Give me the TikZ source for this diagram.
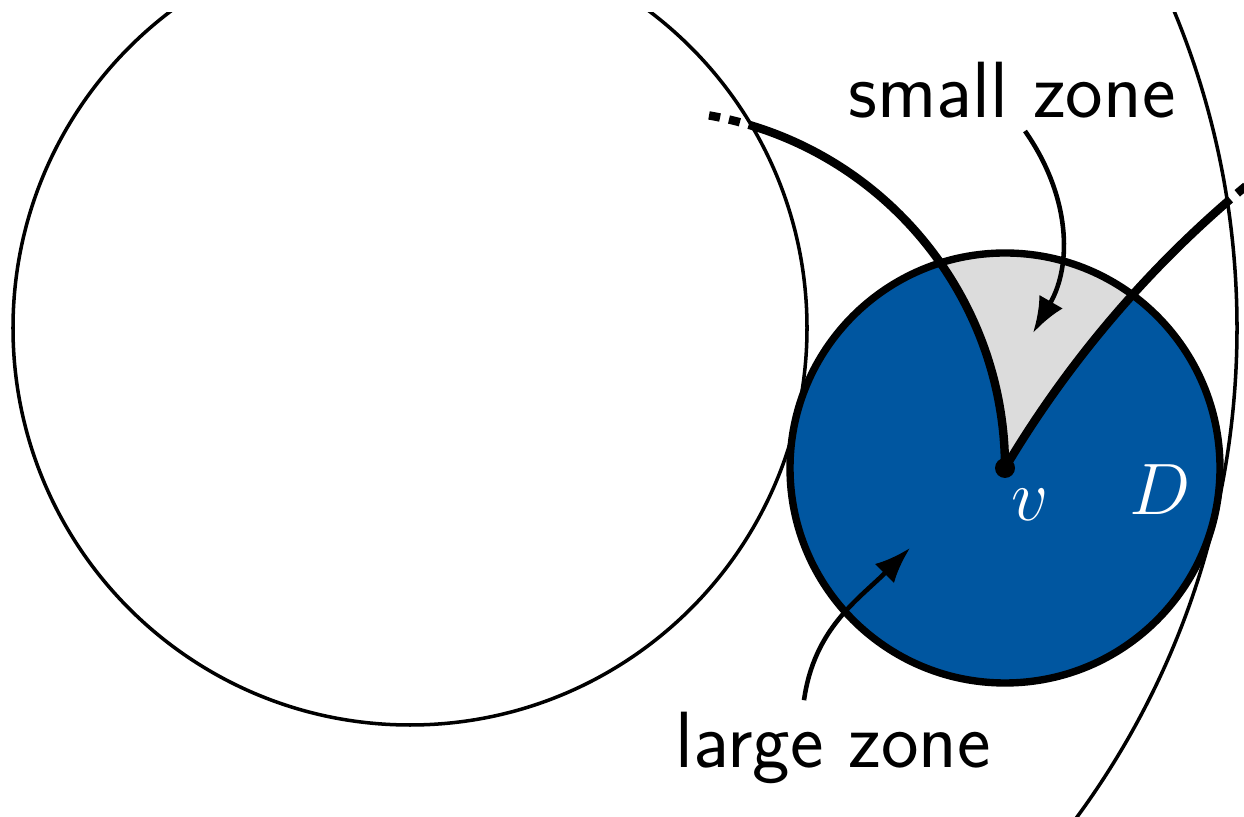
\documentclass[tikz,border=0pt]{standalone}
\usepackage{amsmath}
\usepackage{amssymb}
\usepackage{tikz}
\usetikzlibrary{arrows.meta}
\definecolor{zoneblue}{RGB}{0,86,160}
\definecolor{zonegray}{RGB}{220,220,220}

\begin{document}
\begin{tikzpicture}[
  thinline/.style={line width=1pt},
  geod/.style={line width=2.4pt},
  geodext/.style={line width=2.4pt, dash pattern=on 3.2pt off 2.6pt, dash phase=3.2pt},
  pointer/.style={line width=1.3pt, -{Latex[length=0.36cm,width=0.27cm]}},
  lbl/.style={font=\fontsize{22.7}{27}\selectfont\sffamily}
]

\useasboundingbox (0,0) rectangle (12.44,8.17);
\clip (0,0) rectangle (12.44,8.04);

\coordinate (O) at (4.10,4.89);
\coordinate (v) at (10.05,3.49);

\fill[zoneblue] (v) circle (2.15);
\begin{scope}
\clip (v) circle (2.15);
\fill[zonegray] (v) arc[start angle=0, end angle=80, radius=3.58] -- (13,8.5)
  -- (12.70,6.50) arc[start angle=128, end angle=149.3, radius=10.88] -- cycle;
\end{scope}

\draw[thinline] (O) circle (3.97);
\draw[thinline] (O) circle (8.27);

\draw[line width=2.1pt] (v) circle (2.15);

\draw[geod] (v) arc[start angle=0, end angle=73.5, radius=3.58] coordinate (c1);
\draw[geodext] (c1) arc[start angle=73.5, end angle=80.5, radius=3.58];
\draw[geod] (v) arc[start angle=149.3, end angle=130.75, radius=10.88] coordinate (c2);
\draw[geodext] (c2) arc[start angle=130.75, end angle=127, radius=10.88];

\fill (v) circle (0.1);

\node[lbl, text=white] (vlabel) at (10.30,3.12) {$v$};
\node[lbl, text=white] (Dlabel) at (11.60,3.27) {$D$};

\node[lbl, anchor=base] (small) at (10.12,6.99) {small zone};
\coordinate (smalltip) at (10.33,4.84);
\draw[pointer] (small.south -| 10.25,0) to[out=-55,in=60] (smalltip);

\node[lbl, anchor=base] (large) at (8.33,0.49) {large zone};
\coordinate (largetip) at (9.10,2.69);
\draw[pointer] (large.north -| 8.04,0) to[out=82,in=-135] (largetip);

\end{tikzpicture}
\end{document}
